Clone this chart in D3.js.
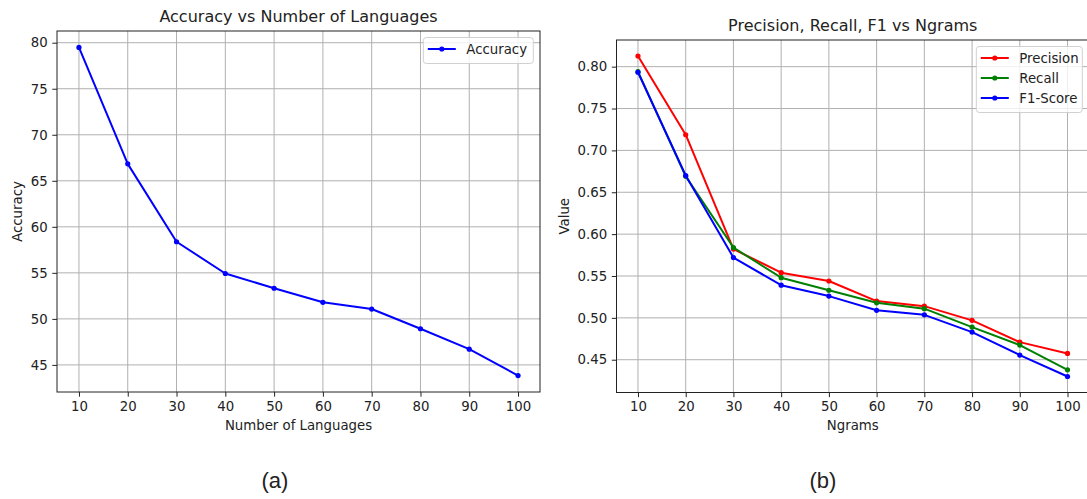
<!DOCTYPE html>
<html>
<head>
<meta charset="utf-8">
<script src="https://cdn.jsdelivr.net/npm/d3@7"></script>
<style>
  html, body { margin: 0; padding: 0; background: #fff; }
  svg { display: block; }
  text { font-family: "DejaVu Sans", sans-serif; fill: #222; }
  .caption { font-family: "Liberation Sans", Arial, sans-serif; }
</style>
</head>
<body>
<div id="container"></div>
<script>
const languages = [10, 20, 30, 40, 50, 60, 70, 80, 90, 100];
const accuracy = [79.49, 66.84, 58.38, 54.93, 53.33, 51.80, 51.07, 48.93, 46.71, 43.84];

const ngrams = [10, 20, 30, 40, 50, 60, 70, 80, 90, 100];
const precision = [0.8127, 0.7187, 0.5821, 0.554, 0.544, 0.520, 0.514, 0.497, 0.471, 0.4575];
const recall = [0.794, 0.669, 0.584, 0.548, 0.533, 0.518, 0.511, 0.489, 0.4675, 0.438];
const f1score = [0.7933, 0.670, 0.572, 0.539, 0.526, 0.509, 0.5036, 0.483, 0.4556, 0.430];

const xTicks = [10, 20, 30, 40, 50, 60, 70, 80, 90, 100];
const accTicks = [45, 50, 55, 60, 65, 70, 75, 80];
const valTicks = [0.45, 0.50, 0.55, 0.60, 0.65, 0.70, 0.75, 0.80];

const width = 1087;
const height = 499;

const svg = d3.select('#container').append('svg')
  .attr('width', width).attr('height', height);

// matplotlib style 5% margins
function padded(values) {
  const [lo, hi] = d3.extent(values);
  const m = (hi - lo) * 0.05;
  return [lo - m, hi + m];
}

function drawPanel(p) {
  const g = svg.append('g');
  const x = d3.scaleLinear().domain(padded(p.xs)).range([p.left, p.right]);
  const y = d3.scaleLinear().domain(padded([].concat(...p.series.map(s => s.values)))).range([p.bottom, p.top]);

  // grid
  g.selectAll('.vgrid').data(xTicks).enter().append('line')
    .attr('x1', d => x(d)).attr('x2', d => x(d))
    .attr('y1', p.top).attr('y2', p.bottom)
    .attr('stroke', '#b0b0b0').attr('stroke-width', 1);
  g.selectAll('.hgrid').data(p.yTicks).enter().append('line')
    .attr('x1', p.left).attr('x2', p.right)
    .attr('y1', d => y(d)).attr('y2', d => y(d))
    .attr('stroke', '#b0b0b0').attr('stroke-width', 1);

  // axes
  const xAxis = d3.axisBottom(x).tickValues(xTicks).tickSize(4.7).tickPadding(4.7).tickFormat(d3.format('d'));
  const yAxis = d3.axisLeft(y).tickValues(p.yTicks).tickSize(4.7).tickPadding(4.7).tickFormat(p.yFormat);

  const gx = g.append('g').attr('transform', `translate(0,${p.bottom})`).call(xAxis);
  const gy = g.append('g').attr('transform', `translate(${p.left},0)`).call(yAxis);
  [gx, gy].forEach(a => {
    a.select('.domain').remove();
    a.selectAll('.tick line').attr('stroke', '#222').attr('stroke-width', 1);
    a.selectAll('.tick text').style('font-size', '13.3px').attr('fill', '#222');
  });

  // lines + markers
  p.series.forEach(s => {
    const pts = p.xs.map((v, i) => [v, s.values[i]]);
    g.append('path')
      .datum(pts)
      .attr('fill', 'none')
      .attr('stroke', s.color)
      .attr('stroke-width', 2)
      .attr('stroke-linejoin', 'round')
      .attr('d', d3.line().x(d => x(d[0])).y(d => y(d[1])));
    g.selectAll(null).data(pts).enter().append('circle')
      .attr('cx', d => x(d[0])).attr('cy', d => y(d[1]))
      .attr('r', 2.6).attr('fill', s.color);
  });

  // frame
  g.append('rect')
    .attr('x', p.left).attr('y', p.top)
    .attr('width', p.right - p.left).attr('height', p.bottom - p.top)
    .attr('fill', 'none').attr('stroke', '#222').attr('stroke-width', 1);

  // title, labels
  g.append('text')
    .attr('x', (p.left + p.right) / 2).attr('y', p.top - 9)
    .attr('text-anchor', 'middle').style('font-size', '16px')
    .text(p.title);
  g.append('text')
    .attr('x', (p.left + p.right) / 2).attr('y', 430)
    .attr('text-anchor', 'middle').style('font-size', '13.3px')
    .text(p.xLabel);
  g.append('text')
    .attr('transform', `translate(${p.yLabelX},${(p.top + p.bottom) / 2}) rotate(-90)`)
    .attr('text-anchor', 'middle').style('font-size', '13.3px')
    .text(p.yLabel);

  // legend
  const lg = g.append('g');
  const rows = p.series.length;
  const boxW = p.legendW;
  const boxH = 8 + rows * 20 - 2;
  const bx = p.right - 6.7 - boxW;
  const by = p.top + 6.5;
  lg.append('rect')
    .attr('x', bx).attr('y', by).attr('width', boxW).attr('height', boxH)
    .attr('rx', 3).attr('fill', 'rgba(255,255,255,0.8)')
    .attr('stroke', '#d0d0d0').attr('stroke-width', 1);
  p.series.forEach((s, i) => {
    const ly = by + 11.5 + i * 20;
    lg.append('line')
      .attr('x1', bx + 4.5).attr('x2', bx + 32.5)
      .attr('y1', ly).attr('y2', ly)
      .attr('stroke', s.color).attr('stroke-width', 2);
    lg.append('circle')
      .attr('cx', bx + 18.5).attr('cy', ly).attr('r', 2.6).attr('fill', s.color);
    lg.append('text')
      .attr('x', bx + 43).attr('y', ly + 4.8)
      .style('font-size', '13.3px')
      .text(s.name);
  });

  // caption
  svg.append('text')
    .attr('class', 'caption')
    .attr('x', p.captionX).attr('y', 488)
    .attr('text-anchor', 'middle').style('font-size', '22px')
    .attr('fill', '#000')
    .text(p.caption);
}

drawPanel({
  left: 57, right: 540, top: 31, bottom: 392,
  xs: languages,
  series: [{ name: 'Accuracy', values: accuracy, color: '#0000ff' }],
  yTicks: accTicks,
  yFormat: d3.format('d'),
  title: 'Accuracy vs Number of Languages',
  xLabel: 'Number of Languages',
  yLabel: 'Accuracy',
  yLabelX: 21.5,
  legendW: 110,
  caption: '(a)',
  captionX: 275
});

drawPanel({
  left: 616.5, right: 1089, top: 40, bottom: 392.5,
  xs: ngrams,
  series: [
    { name: 'Precision', values: precision, color: '#ff0000' },
    { name: 'Recall', values: recall, color: '#008000' },
    { name: 'F1-Score', values: f1score, color: '#0000ff' }
  ],
  yTicks: valTicks,
  yFormat: d3.format('.2f'),
  title: 'Precision, Recall, F1 vs Ngrams',
  xLabel: 'Ngrams',
  yLabel: 'Value',
  yLabelX: 569,
  legendW: 106,
  caption: '(b)',
  captionX: 823
});
</script>
</body>
</html>
